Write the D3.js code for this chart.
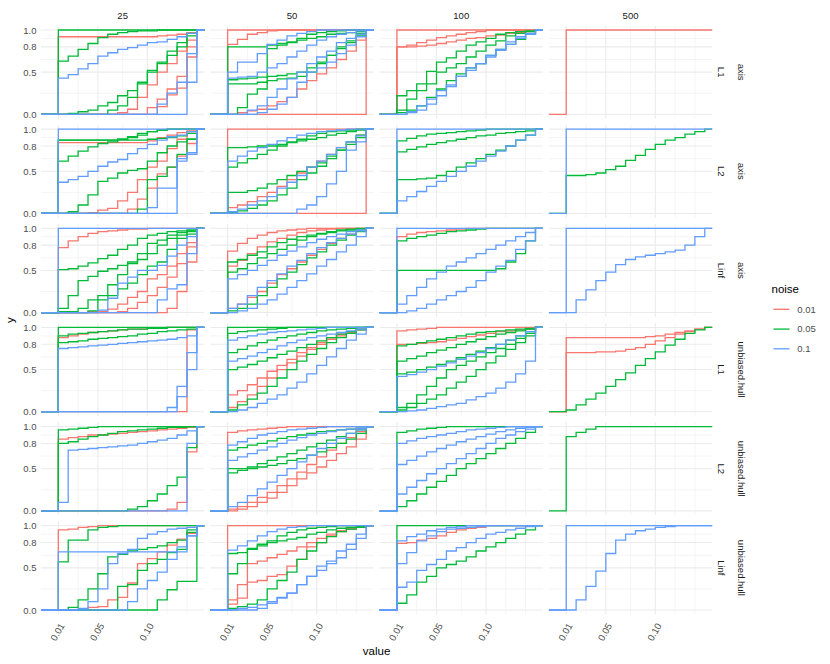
<!DOCTYPE html>
<html><head><meta charset="utf-8">
<script src="https://cdn.jsdelivr.net/npm/d3@7"></script>
<style>body{margin:0;background:#fff} text{font-family:"Liberation Sans",Arial,Helvetica,sans-serif}</style>
</head><body><svg id="c" width="830" height="664"></svg>
<script>
const sizes = ["25","50","100","500"];
const methods = ["axis","unbiased.hull"];
const norms = ["L1","L2","Linf"];
const noiseLevels = ["0.01","0.05","0.1"];
const noiseColors = ["#F8766D","#00BA38","#619CFF"];
const xSteps = [0.01,0.02,0.03,0.04,0.05,0.06,0.07,0.08,0.09,0.10,0.11,0.12,0.13,0.14,0.15];
const xBreaks = [0.01,0.05,0.10];
const xTickLabels = ["0.01","0.05","0.10"];
const xMinor = [0.03,0.075,0.12,0.14];
const yBreaks = [0,0.5,0.8,1.0];
const yTickLabels = ["0.0","0.5","0.8","1.0"];
const yMinor = [0.25,0.65,0.9];

// ECDF series: [noise, cumulative share at each of xSteps]
const axis_L1_25 = [
 ["0.01",[0.92,0.92,0.92,0.92,0.92,0.92,0.92,0.92,0.92,0.92,0.93,0.94,0.95,0.97,1]],
 ["0.01",[0,0,0,0,0,0,0.02,0.06,0.2,0.35,0.5,0.6,0.75,0.88,1]],
 ["0.01",[0,0,0,0,0,0,0,0,0,0.08,0.18,0.3,0.45,0.68,1]],
 ["0.01",[0,0,0,0,0,0,0,0,0,0,0.09,0.23,0.31,0.8,1]],
 ["0.05",[1,1,1,1,1,1,1,1,1,1,1,1,1,1,1]],
 ["0.05",[0.63,0.69,0.77,0.84,0.91,0.95,0.97,0.98,0.99,0.99,1,1,1,1,1]],
 ["0.05",[0,0.01,0.03,0.05,0.1,0.14,0.22,0.28,0.38,0.5,0.6,0.7,0.8,0.93,1]],
 ["0.05",[0,0,0,0,0,0.05,0.1,0.2,0.36,0.52,0.62,0.75,0.85,0.96,1]],
 ["0.1",[0.43,0.47,0.54,0.6,0.69,0.73,0.77,0.79,0.82,0.85,0.86,0.89,0.92,0.96,1]],
 ["0.1",[0,0,0,0,0,0,0,0,0,0,0.12,0.25,0.38,0.38,1]],
 ["0.1",[0,0,0,0,0,0,0,0,0,0,0,0,0,0.72,1]]
];
const axis_L1_50 = [
 ["0.01",[1,1,1,1,1,1,1,1,1,1,1,1,1,1,1]],
 ["0.01",[0,0,0,0,0,0,0,0,0,0,0,0,0,0,1]],
 ["0.01",[0.83,0.89,0.95,0.97,0.99,1,1,1,1,1,1,1,1,1,1]],
 ["0.01",[0,0.02,0.04,0.06,0.1,0.15,0.2,0.3,0.4,0.48,0.55,0.65,0.75,0.88,1]],
 ["0.05",[0.8,0.8,0.8,0.8,0.82,0.84,0.85,0.88,0.9,0.92,0.95,0.96,0.97,0.98,1]],
 ["0.05",[0.36,0.36,0.36,0.38,0.4,0.42,0.43,0.45,0.5,0.6,0.7,0.8,0.87,0.96,1]],
 ["0.05",[0.41,0.42,0.43,0.44,0.45,0.46,0.48,0.5,0.55,0.62,0.7,0.78,0.85,0.93,1]],
 ["0.05",[0,0.08,0.24,0.3,0.78,0.82,0.86,0.9,0.95,0.97,0.98,0.99,1,1,1]],
 ["0.1",[0.5,0.62,0.62,0.72,0.83,0.88,0.93,0.96,0.98,1,1,1,1,1,1]],
 ["0.1",[0.43,0.44,0.45,0.5,0.55,0.6,0.68,0.75,0.82,0.88,0.92,0.95,0.97,0.99,1]],
 ["0.1",[0,0,0.05,0.1,0.2,0.3,0.42,0.5,0.6,0.68,0.75,0.85,0.9,0.95,1]],
 ["0.1",[0,0,0,0.02,0.06,0.12,0.2,0.38,0.5,0.55,0.62,0.72,0.82,0.92,1]]
];
const axis_L1_100 = [
 ["0.01",[1,1,1,1,1,1,1,1,1,1,1,1,1,1,1]],
 ["0.01",[0.8,0.82,0.85,0.88,0.91,0.93,0.95,0.97,0.98,1,1,1,1,1,1]],
 ["0.01",[0.8,0.8,0.81,0.82,0.84,0.86,0.88,0.9,0.91,0.93,0.94,0.96,0.97,0.98,1]],
 ["0.05",[0.22,0.28,0.36,0.51,0.62,0.67,0.75,0.82,0.86,0.9,0.95,0.97,0.98,0.99,1]],
 ["0.05",[0.05,0.18,0.28,0.36,0.5,0.55,0.6,0.68,0.75,0.82,0.87,0.93,0.96,0.98,1]],
 ["0.05",[0.02,0.05,0.1,0.2,0.3,0.4,0.48,0.55,0.6,0.7,0.77,0.83,0.89,0.95,1]],
 ["0.1",[0,0.03,0.1,0.18,0.28,0.35,0.45,0.55,0.6,0.7,0.77,0.83,0.9,0.95,1]],
 ["0.1",[0,0.02,0.05,0.12,0.22,0.33,0.45,0.52,0.6,0.68,0.76,0.86,0.92,0.96,1]]
];
const axis_L1_500 = [
 ["0.01",[1,1,1,1,1,1,1,1,1,1,1,1,1,1,1]]
];
const axis_L2_25 = [
 ["0.01",[0.84,0.84,0.84,0.84,0.84,0.84,0.84,0.84,0.84,0.86,0.9,0.93,0.96,0.98,1]],
 ["0.01",[0,0,0,0.01,0.04,0.06,0.15,0.25,0.4,0.55,0.62,0.77,0.88,0.95,1]],
 ["0.01",[0,0,0,0,0,0,0,0.05,0.17,0.3,0.47,0.55,0.68,0.83,1]],
 ["0.05",[0.87,0.87,0.87,0.87,0.87,0.87,0.88,0.9,0.93,0.97,0.99,1,1,1,1]],
 ["0.05",[0.87,0.87,0.87,0.87,0.87,0.87,0.87,0.87,0.87,0.88,0.89,0.9,0.92,0.95,1]],
 ["0.05",[0.62,0.68,0.74,0.79,0.83,0.85,0.88,0.91,0.95,0.97,0.99,1,1,1,1]],
 ["0.05",[0,0.02,0.1,0.22,0.38,0.42,0.48,0.51,0.53,0.62,0.72,0.8,0.85,0.88,1]],
 ["0.05",[0,0,0,0,0,0,0,0,0.05,0.4,0.44,0.55,0.7,0.88,1]],
 ["0.1",[1,1,1,1,1,1,1,1,1,1,1,1,1,1,1]],
 ["0.1",[0.37,0.4,0.44,0.5,0.56,0.61,0.64,0.71,0.77,0.82,0.87,0.91,0.93,0.97,1]],
 ["0.1",[0,0,0,0,0,0,0,0,0,0.07,0.3,0.3,0.65,0.7,1]],
 ["0.1",[0,0,0,0,0,0,0,0,0,0,0,0,0.62,0.72,1]]
];
const axis_L2_50 = [
 ["0.01",[1,1,1,1,1,1,1,1,1,1,1,1,1,1,1]],
 ["0.01",[0,0,0,0,0,0,0,0,0,0,0,0,0,0,1]],
 ["0.01",[0.07,0.1,0.14,0.2,0.25,0.32,0.4,0.48,0.55,0.62,0.7,0.78,0.85,0.93,1]],
 ["0.05",[0.78,0.78,0.79,0.8,0.8,0.82,0.84,0.86,0.88,0.9,0.93,0.95,0.97,0.99,1]],
 ["0.05",[0.55,0.6,0.65,0.7,0.75,0.8,0.85,0.88,0.92,0.95,0.97,0.98,0.99,1,1]],
 ["0.05",[0.25,0.25,0.27,0.3,0.35,0.4,0.45,0.5,0.55,0.6,0.68,0.75,0.82,0.9,1]],
 ["0.05",[0.01,0.03,0.06,0.1,0.15,0.22,0.3,0.4,0.48,0.56,0.65,0.75,0.85,0.93,1]],
 ["0.1",[0.62,0.68,0.74,0.78,0.82,0.86,0.9,0.93,0.95,0.97,0.98,0.99,1,1,1]],
 ["0.1",[0.02,0.05,0.1,0.15,0.2,0.3,0.37,0.45,0.55,0.62,0.7,0.78,0.85,0.92,1]],
 ["0.1",[0,0,0,0,0,0,0,0.05,0.1,0.2,0.35,0.5,0.75,0.85,1]]
];
const axis_L2_100 = [
 ["0.05",[0.86,0.89,0.92,0.94,0.95,0.96,0.97,0.98,0.99,1,1,1,1,1,1]],
 ["0.05",[0.73,0.76,0.79,0.82,0.84,0.86,0.88,0.9,0.92,0.93,0.95,0.96,0.97,0.98,1]],
 ["0.05",[0.4,0.4,0.41,0.42,0.45,0.5,0.55,0.6,0.65,0.7,0.75,0.8,0.87,0.93,1]],
 ["0.1",[1,1,1,1,1,1,1,1,1,1,1,1,1,1,1]],
 ["0.1",[0.15,0.2,0.26,0.32,0.38,0.44,0.5,0.56,0.62,0.68,0.74,0.8,0.87,0.93,1]]
];
const axis_L2_500 = [
 ["0.05",[0.45,0.45,0.46,0.48,0.52,0.56,0.63,0.69,0.76,0.82,0.87,0.9,0.94,0.97,1]],
 ["0.1",[1,1,1,1,1,1,1,1,1,1,1,1,1,1,1]]
];
const axis_Linf_25 = [
 ["0.01",[0.77,0.85,0.9,0.94,0.96,0.97,0.98,0.99,0.99,1,1,1,1,1,1]],
 ["0.01",[0,0,0,0.01,0.01,0.04,0.1,0.18,0.25,0.4,0.45,0.55,0.7,0.83,1]],
 ["0.01",[0,0,0,0,0,0,0.01,0.05,0.12,0.2,0.3,0.42,0.58,0.78,1]],
 ["0.01",[0,0,0,0,0,0,0,0,0,0,0,0.05,0.25,0.6,1]],
 ["0.05",[0.51,0.52,0.55,0.59,0.64,0.68,0.75,0.8,0.88,0.92,0.94,0.96,0.97,0.98,1]],
 ["0.05",[0.05,0.2,0.38,0.43,0.49,0.52,0.56,0.6,0.63,0.7,0.8,0.88,0.92,0.96,1]],
 ["0.05",[0.01,0.01,0.05,0.15,0.2,0.33,0.45,0.58,0.7,0.82,0.86,0.92,0.95,0.97,1]],
 ["0.05",[0,0,0,0.02,0.15,0.2,0.28,0.35,0.45,0.55,0.6,0.75,0.88,0.93,1]],
 ["0.1",[1,1,1,1,1,1,1,1,1,1,1,1,1,1,1]],
 ["0.1",[0,0,0,0,0.03,0.17,0.35,0.42,0.5,0.5,0.56,0.67,0.8,0.9,1]],
 ["0.1",[0,0,0,0,0,0,0,0,0,0,0.15,0.28,0.33,0.7,1]]
];
const axis_Linf_50 = [
 ["0.01",[0.73,0.82,0.88,0.92,0.95,0.97,0.98,0.99,1,1,1,1,1,1,1]],
 ["0.01",[0.55,0.62,0.7,0.78,0.84,0.88,0.92,0.95,0.97,0.98,0.99,1,1,1,1]],
 ["0.01",[0.05,0.1,0.18,0.25,0.35,0.45,0.52,0.6,0.68,0.75,0.82,0.88,0.93,0.97,1]],
 ["0.05",[0.6,0.63,0.68,0.72,0.78,0.83,0.87,0.9,0.92,0.94,0.96,0.98,0.99,1,1]],
 ["0.05",[0.48,0.52,0.58,0.65,0.7,0.75,0.8,0.86,0.9,0.93,0.95,0.97,0.98,0.99,1]],
 ["0.05",[0.02,0.05,0.1,0.2,0.3,0.4,0.48,0.57,0.65,0.72,0.8,0.86,0.92,0.96,1]],
 ["0.1",[0.4,0.45,0.5,0.56,0.62,0.68,0.73,0.78,0.83,0.87,0.9,0.93,0.96,0.98,1]],
 ["0.1",[0.05,0.1,0.2,0.3,0.38,0.46,0.55,0.62,0.7,0.77,0.83,0.88,0.93,0.97,1]],
 ["0.1",[0,0.02,0.05,0.1,0.15,0.22,0.3,0.38,0.46,0.55,0.63,0.72,0.8,0.9,1]]
];
const axis_Linf_100 = [
 ["0.01",[0.9,0.93,0.95,0.96,0.97,0.98,0.99,1,1,1,1,1,1,1,1]],
 ["0.05",[0.85,0.88,0.9,0.92,0.94,0.96,0.97,0.98,0.99,1,1,1,1,1,1]],
 ["0.05",[0.5,0.5,0.5,0.5,0.5,0.5,0.5,0.5,0.5,0.5,0.52,0.6,0.7,0.85,1]],
 ["0.1",[1,1,1,1,1,1,1,1,1,1,1,1,1,1,1]],
 ["0.1",[0.1,0.2,0.3,0.4,0.48,0.55,0.6,0.65,0.7,0.75,0.8,0.85,0.9,0.95,1]],
 ["0.1",[0,0.02,0.05,0.1,0.15,0.2,0.25,0.3,0.38,0.48,0.55,0.62,0.75,0.85,1]]
];
const axis_Linf_500 = [
 ["0.1",[1,1,1,1,1,1,1,1,1,1,1,1,1,1,1]],
 ["0.1",[0,0.15,0.27,0.38,0.48,0.57,0.63,0.66,0.68,0.7,0.72,0.74,0.8,0.9,1]]
];
const hull_L1_25 = [
 ["0.01",[0.88,0.9,0.92,0.94,0.95,0.96,0.97,0.98,0.98,0.99,0.99,1,1,1,1]],
 ["0.01",[0,0,0,0,0,0,0,0,0,0,0,0,0,0.97,1]],
 ["0.05",[1,1,1,1,1,1,1,1,1,1,1,1,1,1,1]],
 ["0.05",[0.9,0.92,0.93,0.94,0.95,0.96,0.97,0.98,0.98,0.99,0.99,1,1,1,1]],
 ["0.05",[0.82,0.83,0.84,0.86,0.87,0.88,0.89,0.9,0.92,0.93,0.95,0.96,0.97,0.98,1]],
 ["0.1",[0.75,0.76,0.77,0.78,0.79,0.8,0.81,0.82,0.83,0.84,0.85,0.86,0.88,0.9,1]],
 ["0.1",[0,0,0,0,0,0,0,0,0,0,0,0.05,0.18,0.5,1]],
 ["0.1",[0,0,0,0,0,0,0,0,0,0,0,0,0.3,0.7,1]]
];
const hull_L1_50 = [
 ["0.01",[0.2,0.25,0.32,0.4,0.48,0.55,0.62,0.7,0.76,0.82,0.88,0.92,0.95,0.98,1]],
 ["0.01",[0.05,0.12,0.2,0.3,0.4,0.5,0.58,0.66,0.74,0.8,0.86,0.9,0.94,0.97,1]],
 ["0.05",[1,1,1,1,1,1,1,1,1,1,1,1,1,1,1]],
 ["0.05",[0.93,0.95,0.96,0.97,0.98,0.99,1,1,1,1,1,1,1,1,1]],
 ["0.05",[0.7,0.74,0.78,0.82,0.85,0.88,0.9,0.92,0.94,0.96,0.97,0.98,0.99,1,1]],
 ["0.05",[0.5,0.53,0.56,0.6,0.64,0.68,0.72,0.76,0.8,0.84,0.88,0.92,0.95,0.98,1]],
 ["0.05",[0.02,0.08,0.15,0.22,0.3,0.4,0.5,0.6,0.68,0.75,0.82,0.88,0.93,0.97,1]],
 ["0.1",[0.85,0.88,0.9,0.92,0.94,0.95,0.96,0.97,0.98,0.99,1,1,1,1,1]],
 ["0.1",[0.6,0.63,0.66,0.7,0.74,0.78,0.82,0.85,0.88,0.9,0.92,0.94,0.96,0.98,1]],
 ["0.1",[0,0.02,0.05,0.1,0.15,0.2,0.28,0.35,0.45,0.55,0.65,0.75,0.85,0.92,1]]
];
const hull_L1_100 = [
 ["0.01",[0.96,0.97,0.98,0.99,1,1,1,1,1,1,1,1,1,1,1]],
 ["0.01",[0.8,0.8,0.81,0.82,0.83,0.85,0.87,0.89,0.91,0.93,0.95,0.96,0.97,0.98,1]],
 ["0.05",[0.78,0.8,0.82,0.84,0.86,0.88,0.9,0.92,0.94,0.95,0.96,0.97,0.98,0.99,1]],
 ["0.05",[0.6,0.63,0.66,0.7,0.73,0.76,0.8,0.83,0.86,0.89,0.92,0.94,0.96,0.98,1]],
 ["0.05",[0.45,0.47,0.5,0.53,0.56,0.6,0.64,0.68,0.72,0.76,0.8,0.85,0.9,0.95,1]],
 ["0.05",[0.05,0.1,0.2,0.3,0.4,0.5,0.55,0.6,0.65,0.7,0.75,0.8,0.87,0.93,1]],
 ["0.05",[0.02,0.05,0.1,0.15,0.2,0.28,0.35,0.42,0.5,0.58,0.66,0.74,0.82,0.9,1]],
 ["0.1",[0.42,0.44,0.47,0.5,0.54,0.58,0.62,0.66,0.7,0.75,0.8,0.85,0.9,0.95,1]],
 ["0.1",[0,0.01,0.02,0.04,0.06,0.08,0.1,0.14,0.18,0.22,0.28,0.35,0.45,0.6,1]]
];
const hull_L1_500 = [
 ["0.01",[0.88,0.88,0.88,0.88,0.88,0.88,0.88,0.88,0.89,0.9,0.92,0.94,0.96,0.98,1]],
 ["0.01",[0.7,0.7,0.7,0.71,0.71,0.72,0.74,0.76,0.8,0.84,0.88,0.92,0.95,0.98,1]],
 ["0.05",[0.02,0.08,0.15,0.22,0.3,0.38,0.46,0.55,0.63,0.71,0.79,0.86,0.93,0.97,1]]
];
const hull_L2_25 = [
 ["0.01",[0.85,0.87,0.88,0.9,0.9,0.91,0.92,0.93,0.94,0.95,0.96,0.97,0.98,0.99,1]],
 ["0.01",[0,0,0,0,0,0,0,0,0,0,0,0.02,0.1,0.7,1]],
 ["0.05",[0.96,0.97,0.98,0.99,1,1,1,1,1,1,1,1,1,1,1]],
 ["0.05",[0.8,0.82,0.85,0.88,0.9,0.92,0.94,0.95,0.96,0.97,0.98,0.99,0.99,1,1]],
 ["0.05",[0,0,0,0,0,0,0,0.02,0.05,0.12,0.2,0.3,0.4,0.75,1]],
 ["0.1",[0.1,0.72,0.73,0.74,0.75,0.76,0.77,0.78,0.8,0.82,0.84,0.86,0.9,0.95,1]],
 ["0.1",[0,0,0,0,0,0,0,0,0,0,0,0,0,0.8,1]]
];
const hull_L2_50 = [
 ["0.01",[0.93,0.95,0.96,0.97,0.98,0.99,1,1,1,1,1,1,1,1,1]],
 ["0.01",[0.02,0.05,0.1,0.16,0.22,0.3,0.38,0.46,0.55,0.64,0.72,0.8,0.87,0.94,1]],
 ["0.01",[0,0.02,0.05,0.1,0.15,0.22,0.3,0.38,0.45,0.52,0.6,0.68,0.76,0.85,1]],
 ["0.05",[0.72,0.75,0.78,0.8,0.83,0.86,0.88,0.9,0.92,0.94,0.95,0.96,0.97,0.98,1]],
 ["0.05",[0.5,0.5,0.5,0.52,0.54,0.56,0.6,0.62,0.66,0.7,0.75,0.8,0.85,0.92,1]],
 ["0.05",[0.45,0.48,0.52,0.56,0.6,0.64,0.68,0.72,0.76,0.8,0.84,0.88,0.92,0.96,1]],
 ["0.1",[0.78,0.82,0.86,0.9,0.92,0.94,0.96,0.97,0.98,0.99,1,1,1,1,1]],
 ["0.1",[0.6,0.64,0.68,0.72,0.76,0.8,0.84,0.87,0.9,0.92,0.94,0.96,0.97,0.98,1]],
 ["0.1",[0.05,0.1,0.18,0.26,0.34,0.42,0.5,0.58,0.66,0.74,0.8,0.86,0.92,0.96,1]]
];
const hull_L2_100 = [
 ["0.05",[0.93,0.95,0.97,0.98,0.99,1,1,1,1,1,1,1,1,1,1]],
 ["0.05",[0.05,0.12,0.2,0.28,0.35,0.42,0.5,0.56,0.62,0.68,0.74,0.8,0.86,0.93,1]],
 ["0.1",[0.8,0.83,0.86,0.88,0.9,0.92,0.94,0.96,0.97,0.98,0.99,1,1,1,1]],
 ["0.1",[0.55,0.6,0.65,0.7,0.74,0.78,0.82,0.85,0.88,0.91,0.94,0.96,0.98,0.99,1]],
 ["0.1",[0.2,0.28,0.36,0.44,0.5,0.56,0.62,0.68,0.74,0.8,0.86,0.9,0.94,0.97,1]]
];
const hull_L2_500 = [
 ["0.05",[0.88,0.93,0.97,1,1,1,1,1,1,1,1,1,1,1,1]]
];
const hull_Linf_25 = [
 ["0.01",[0.95,0.96,0.98,0.99,1,1,1,1,1,1,1,1,1,1,1]],
 ["0.01",[0,0,0,0.03,0.04,0.12,0.15,0.32,0.55,0.61,0.69,0.77,0.84,0.91,1]],
 ["0.05",[0.57,0.83,0.83,0.95,0.98,0.99,1,1,1,1,1,1,1,1,1]],
 ["0.05",[0,0.03,0.12,0.25,0.43,0.63,0.66,0.7,0.72,0.74,0.76,0.8,0.83,0.92,1]],
 ["0.05",[0,0,0,0,0,0,0.28,0.3,0.47,0.55,0.6,0.68,0.72,0.95,1]],
 ["0.05",[0,0,0,0,0,0,0,0,0,0,0.12,0.24,0.34,0.34,1]],
 ["0.1",[0.69,0.69,0.69,0.69,0.69,0.69,0.69,0.69,0.69,0.69,0.69,0.69,0.69,0.88,1]],
 ["0.1",[0,0,0.02,0.1,0.25,0.55,0.67,0.72,0.85,0.9,0.93,0.96,0.97,0.98,1]],
 ["0.1",[0,0,0,0,0,0,0,0.1,0.25,0.35,0.45,0.6,0.75,0.88,1]]
];
const hull_Linf_50 = [
 ["0.01",[1,1,1,1,1,1,1,1,1,1,1,1,1,1,1]],
 ["0.01",[0.12,0.3,0.55,0.58,0.62,0.66,0.7,0.75,0.8,0.85,0.9,0.94,0.97,0.99,1]],
 ["0.01",[0.07,0.14,0.33,0.35,0.4,0.42,0.52,0.6,0.75,0.8,0.88,0.93,0.96,0.98,1]],
 ["0.05",[0.67,0.68,0.72,0.78,0.8,0.82,0.84,0.86,0.9,0.92,0.95,0.97,0.98,0.99,1]],
 ["0.05",[0.43,0.55,0.73,0.76,0.82,0.88,0.92,0.95,0.97,0.98,0.99,1,1,1,1]],
 ["0.05",[0.02,0.04,0.07,0.12,0.25,0.35,0.45,0.6,0.7,0.8,0.87,0.93,0.96,0.98,1]],
 ["0.1",[0.71,0.76,0.82,0.88,0.93,0.96,0.98,0.99,1,1,1,1,1,1,1]],
 ["0.1",[0,0.02,0.03,0.06,0.1,0.15,0.2,0.3,0.4,0.52,0.58,0.7,0.78,0.9,1]],
 ["0.1",[0,0,0,0.02,0.08,0.14,0.2,0.3,0.4,0.47,0.55,0.62,0.72,0.85,1]]
];
const hull_Linf_100 = [
 ["0.01",[0.79,0.8,0.83,0.85,0.88,0.92,0.95,0.97,0.98,1,1,1,1,1,1]],
 ["0.05",[1,1,1,1,1,1,1,1,1,1,1,1,1,1,1]],
 ["0.05",[0.08,0.18,0.33,0.4,0.5,0.54,0.58,0.63,0.7,0.75,0.8,0.85,0.9,0.95,1]],
 ["0.1",[0.82,0.87,0.9,0.94,0.96,0.98,0.99,1,1,1,1,1,1,1,1]],
 ["0.1",[0.55,0.68,0.82,0.88,0.93,0.96,0.97,0.98,0.99,1,1,1,1,1,1]],
 ["0.1",[0.27,0.33,0.47,0.54,0.6,0.7,0.74,0.8,0.85,0.9,0.92,0.95,0.97,0.99,1]]
];
const hull_Linf_500 = [
 ["0.1",[1,1,1,1,1,1,1,1,1,1,1,1,1,1,1]],
 ["0.1",[0,0.12,0.28,0.46,0.67,0.83,0.9,0.94,0.96,0.98,0.99,1,1,1,1]]
];

const panelRows = [
 ["axis","L1",[axis_L1_25,axis_L1_50,axis_L1_100,axis_L1_500]],
 ["axis","L2",[axis_L2_25,axis_L2_50,axis_L2_100,axis_L2_500]],
 ["axis","Linf",[axis_Linf_25,axis_Linf_50,axis_Linf_100,axis_Linf_500]],
 ["unbiased.hull","L1",[hull_L1_25,hull_L1_50,hull_L1_100,hull_L1_500]],
 ["unbiased.hull","L2",[hull_L2_25,hull_L2_50,hull_L2_100,hull_L2_500]],
 ["unbiased.hull","Linf",[hull_Linf_25,hull_Linf_50,hull_Linf_100,hull_Linf_500]]
];

// ---- layout ----
const svg = d3.select("#c");
const PL = 41, PW = 163.3, CS = 169.3;
const PT = 25.8, PH = 92.7, RS = 99.14;
const x = d3.scaleLinear().domain([-0.0075, 0.1575]).range([0, PW]);
const y = d3.scaleLinear().domain([-0.05, 1.05]).range([PH, 0]);
const color = d3.scaleOrdinal().domain(noiseLevels).range(noiseColors);
const grid = "#EBEBEB";

const line = d3.line().curve(d3.curveStepAfter).x(d => x(d[0])).y(d => y(d[1]));

panelRows.forEach((row, r) => {
  row[2].forEach((series, c) => {
    const g = svg.append("g").attr("transform", `translate(${PL + c*CS},${PT + r*RS})`);
    // minor grid
    g.selectAll(".vmin").data(xMinor).join("line")
      .attr("x1", d => x(d)).attr("x2", d => x(d)).attr("y1", 0).attr("y2", PH)
      .attr("stroke", grid).attr("stroke-width", 0.55);
    g.selectAll(".hmin").data(yMinor).join("line")
      .attr("y1", d => y(d)).attr("y2", d => y(d)).attr("x1", 0).attr("x2", PW)
      .attr("stroke", grid).attr("stroke-width", 0.55);
    // major grid
    g.selectAll(".vmaj").data(xBreaks).join("line")
      .attr("x1", d => x(d)).attr("x2", d => x(d)).attr("y1", 0).attr("y2", PH)
      .attr("stroke", grid).attr("stroke-width", 1.1);
    g.selectAll(".hmaj").data(yBreaks).join("line")
      .attr("y1", d => y(d)).attr("y2", d => y(d)).attr("x1", 0).attr("x2", PW)
      .attr("stroke", grid).attr("stroke-width", 1.1);
    // ecdf lines, drawn noise level by noise level
    const ordered = noiseLevels.flatMap(n => series.filter(s => s[0] === n));
    g.selectAll(".ecdf").data(ordered).join("path")
      .attr("fill", "none")
      .attr("stroke", d => color(d[0]))
      .attr("stroke-width", 1.3)
      .attr("d", d => {
        const pts = [[x.domain()[0], 0]];
        d[1].forEach((v, i) => pts.push([xSteps[i], v]));
        pts.push([x.domain()[1], d[1][d[1].length-1]]);
        return line(pts);
      });
    if (c === 0) {
      const ax = g.append("g").call(d3.axisLeft(y).tickValues(yBreaks)
        .tickFormat((d, i) => yTickLabels[i]).tickSize(0).tickPadding(4.5));
      ax.select(".domain").remove();
      ax.selectAll("text").attr("fill", "#4D4D4D").style("font-size", "9.5px")
        .style("font-family", '"Liberation Sans",Arial,sans-serif');
    }
    if (r === panelRows.length - 1) {
      const ax = g.append("g").attr("transform", `translate(0,${PH})`)
        .call(d3.axisBottom(x).tickValues(xBreaks).tickFormat((d, i) => xTickLabels[i]).tickSize(0));
      ax.select(".domain").remove();
      ax.selectAll("text").attr("fill", "#4D4D4D").style("font-size", "9.5px")
        .style("font-family", '"Liberation Sans",Arial,sans-serif')
        .attr("y", 0).attr("dy", "0.35em").attr("text-anchor", "end")
        .attr("transform", "translate(3.3,9.8) rotate(-60)");
    }
    if (r === 0) {
      svg.append("text").attr("x", PL + c*CS + PW/2).attr("y", 16).attr("dy", "0.35em")
        .attr("text-anchor", "middle").attr("fill", "#1A1A1A").style("font-size", "9.5px")
        .text(sizes[c]);
    }
  });
  const cy = PT + r*RS + PH/2;
  [[721.5, row[1]], [741.5, row[0]]].forEach(([sx, t]) => {
    svg.append("text").attr("transform", `translate(${sx},${cy}) rotate(90)`)
      .attr("text-anchor", "middle").attr("dy", "0.35em").attr("fill", "#1A1A1A")
      .style("font-size", "9.5px").text(t);
  });
});

// axis titles
svg.append("text").attr("x", PL + (3*CS + PW)/2).attr("y", 651).attr("dy", "0.35em")
  .attr("text-anchor", "middle").attr("fill", "#000").style("font-size", "11.5px").text("value");
svg.append("text").attr("transform", `translate(10,${PT + (5*RS + PH)/2}) rotate(-90)`)
  .attr("text-anchor", "middle").attr("dy", "0.35em").attr("fill", "#000").style("font-size", "11.5px").text("y");

// legend
const lg = svg.append("g").attr("transform", "translate(771.5,0)");
lg.append("text").attr("x", 0).attr("y", 288.5).attr("dy", "0.35em").attr("fill", "#000")
  .style("font-size", "11.5px").text("noise");
const ly = [309.3, 329.1, 348.8];
noiseLevels.forEach((n, i) => {
  lg.append("line").attr("x1", 2).attr("x2", 18).attr("y1", ly[i]).attr("y2", ly[i])
    .attr("stroke", color(n)).attr("stroke-width", 1.3);
  lg.append("text").attr("x", 25.8).attr("y", ly[i]).attr("dy", "0.35em").attr("fill", "#4D4D4D")
    .style("font-size", "9.5px").text(n);
});
</script></body></html>
